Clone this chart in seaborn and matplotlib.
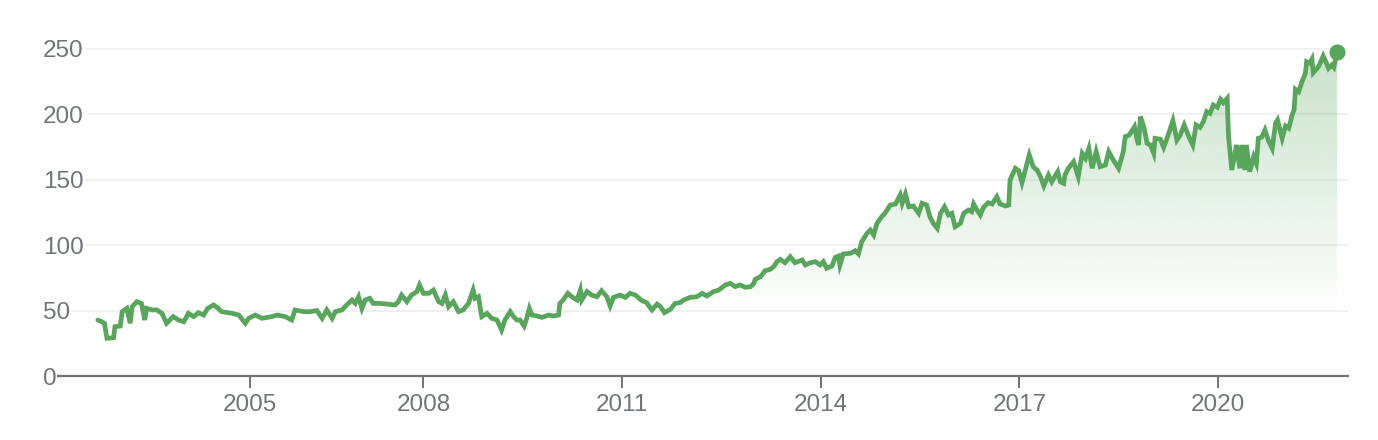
import numpy as np
import pandas as pd
import matplotlib
matplotlib.use("Agg")
import matplotlib.pyplot as plt
import matplotlib.colors as mcolors
import seaborn as sns

# ---- data (decimal year, price) ----
years_a = [2003.08, 2003.14, 2003.18, 2003.22, 2003.32, 2003.34, 2003.42, 2003.45, 2003.52, 2003.57,
           2003.60, 2003.67, 2003.74, 2003.79, 2003.82, 2003.90, 2003.97, 2004.05, 2004.12, 2004.22,
           2004.30, 2004.38, 2004.45, 2004.53, 2004.60, 2004.68, 2004.74, 2004.83, 2004.90, 2004.95,
           2005.11, 2005.21, 2005.31, 2005.36, 2005.46, 2005.56, 2005.71, 2005.79, 2005.91, 2006.01,
           2006.06, 2006.19]
prices_a = [42.8, 41.5, 40.3, 28.8, 29.3, 37.7, 38.2, 49.2, 51.7, 40.3,
            53.0, 56.8, 55.5, 42.8, 51.7, 50.5, 50.5, 47.9, 40.3, 45.4,
            42.8, 41.5, 47.9, 45.4, 48.4, 46.6, 51.7, 54.3, 51.7, 49.2,
            47.9, 46.6, 40.3, 44.1, 46.6, 44.1, 45.4, 46.6, 45.4, 42.8,
            50.5, 49.2]

years_b = [2006.29, 2006.39, 2006.47, 2006.54, 2006.62, 2006.67, 2006.77, 2006.84, 2006.92, 2006.97,
           2007.02, 2007.07, 2007.12, 2007.19, 2007.24, 2007.35, 2007.45, 2007.57, 2007.62, 2007.67,
           2007.75, 2007.82, 2007.90, 2007.94, 2008.00, 2008.08, 2008.15, 2008.23, 2008.28, 2008.33,
           2008.38, 2008.45, 2008.53, 2008.60, 2008.68, 2008.75, 2008.78, 2008.83, 2008.88, 2008.96,
           2009.03, 2009.11, 2009.18, 2009.23]
prices_b = [49.2, 50.0, 44.1, 50.5, 44.1, 49.2, 50.5, 54.3, 58.1, 55.5,
            60.6, 51.7, 58.1, 59.4, 55.5, 55.5, 55.0, 54.3, 56.8, 61.9,
            56.8, 61.9, 64.5, 69.6, 63.2, 63.2, 65.7, 56.8, 55.5, 61.9,
            53.0, 56.8, 49.2, 50.5, 55.5, 65.7, 59.4, 60.6, 45.4, 47.9,
            44.1, 42.8, 35.2, 42.8]

years_c = [2009.31, 2009.36, 2009.41, 2009.46, 2009.52, 2009.56, 2009.60, 2009.64, 2009.71, 2009.79,
           2009.89, 2009.96, 2010.04, 2010.06, 2010.11, 2010.18, 2010.24, 2010.32, 2010.37, 2010.39,
           2010.47, 2010.54, 2010.62, 2010.69, 2010.77, 2010.82, 2010.87, 2010.97, 2011.05, 2011.12,
           2011.20, 2011.30, 2011.37, 2011.45, 2011.53, 2011.58, 2011.64, 2011.73, 2011.80, 2011.88,
           2011.93, 2012.03, 2012.13, 2012.21, 2012.28, 2012.38, 2012.46]
prices_c = [49.2, 45.4, 42.8, 42.8, 38.2, 44.1, 51.7, 46.6, 45.9, 44.8,
            46.6, 45.9, 46.6, 55.5, 58.1, 63.2, 60.6, 58.1, 65.7, 58.1,
            64.5, 61.9, 60.6, 65.2, 60.6, 53.5, 60.1, 61.9, 60.1, 63.2,
            61.9, 57.6, 56.1, 50.5, 55.0, 53.0, 48.4, 51.0, 55.5, 56.1,
            58.1, 60.1, 60.6, 63.2, 61.2, 64.5, 65.7]

years_d = [2012.56, 2012.63, 2012.71, 2012.78, 2012.86, 2012.94, 2012.99, 2013.01, 2013.09, 2013.16,
           2013.24, 2013.29, 2013.34, 2013.39, 2013.46, 2013.54, 2013.61, 2013.72, 2013.77, 2013.84,
           2013.92, 2013.99, 2014.04, 2014.09, 2014.17, 2014.22, 2014.27, 2014.29, 2014.34, 2014.45,
           2014.52, 2014.57, 2014.62, 2014.70, 2014.75, 2014.80, 2014.85, 2014.92, 2014.97, 2015.05,
           2015.13, 2015.20, 2015.23, 2015.28, 2015.33, 2015.40, 2015.48, 2015.53, 2015.60]
prices_d = [69.6, 70.8, 68.3, 69.6, 67.8, 68.3, 70.8, 73.9, 75.9, 80.5,
            81.6, 83.6, 87.4, 89.2, 86.6, 91.2, 86.6, 88.7, 84.9, 86.6,
            87.4, 84.9, 87.4, 82.3, 84.1, 90.7, 91.7, 84.9, 93.3, 93.8,
            95.8, 93.3, 102.7, 109.1, 111.6, 107.8, 116.7, 121.8, 124.4, 130.7,
            131.5, 138.4, 132.0, 139.1, 129.4, 130.0, 124.4, 132.0, 130.7]

years_e = [2015.65, 2015.70, 2015.76, 2015.81, 2015.87, 2015.93, 2015.98, 2016.03, 2016.11, 2016.16,
           2016.23, 2016.28, 2016.31, 2016.36, 2016.41, 2016.46, 2016.53, 2016.59, 2016.66, 2016.71,
           2016.79, 2016.84, 2016.86, 2016.94, 2016.99, 2017.04, 2017.09, 2017.15, 2017.21, 2017.27,
           2017.32, 2017.37, 2017.44, 2017.49, 2017.58, 2017.62, 2017.67, 2017.69, 2017.74, 2017.82,
           2017.89, 2017.95, 2018.00, 2018.05, 2018.10, 2018.16, 2018.22, 2018.30, 2018.35, 2018.42,
           2018.50, 2018.57, 2018.60, 2018.66, 2018.74, 2018.78, 2018.80]
prices_e = [121.8, 116.7, 112.9, 124.4, 129.4, 123.1, 124.4, 114.1, 116.7, 124.4,
            126.9, 125.6, 131.5, 126.9, 123.1, 129.0, 132.5, 131.5, 137.1, 131.5,
            130.0, 130.7, 149.8, 158.8, 157.0, 147.8, 157.3, 169.0, 160.0, 157.3,
            152.4, 145.3, 153.7, 148.5, 156.2, 148.5, 147.3, 153.7, 158.8, 163.8,
            152.4, 170.2, 166.4, 174.0, 158.8, 171.5, 160.0, 161.3, 171.5, 165.1,
            158.8, 171.5, 183.0, 184.2, 190.6, 180.4, 176.6]

years_f = [2018.83, 2018.88, 2018.93, 2018.98, 2019.03, 2019.05, 2019.13, 2019.18, 2019.24, 2019.32,
           2019.38, 2019.43, 2019.49, 2019.56, 2019.62, 2019.67, 2019.73, 2019.78, 2019.83, 2019.88,
           2019.93, 2019.99, 2020.04, 2020.08, 2020.14, 2020.16, 2020.21, 2020.28, 2020.33, 2020.36,
           2020.41, 2020.43, 2020.48, 2020.54, 2020.58, 2020.61, 2020.66, 2020.71, 2020.76, 2020.82,
           2020.87, 2020.90, 2020.97, 2021.02, 2021.07, 2021.12, 2021.15, 2021.17, 2021.22, 2021.27,
           2021.32, 2021.34, 2021.39, 2021.42, 2021.44, 2021.52, 2021.59, 2021.64, 2021.67, 2021.72,
           2021.75, 2021.80]
prices_f = [198.3, 190.6, 177.9, 176.6, 170.2, 181.7, 181.0, 174.8, 183.0, 195.2,
            180.4, 184.2, 191.9, 183.0, 176.6, 191.9, 190.1, 194.4, 202.1, 200.8,
            207.2, 205.4, 211.5, 208.9, 212.3, 183.0, 157.5, 176.6, 158.8, 176.6,
            157.5, 176.6, 156.2, 167.7, 162.6, 181.7, 182.5, 188.1, 180.4, 174.0,
            193.2, 195.7, 181.7, 191.1, 189.4, 199.5, 203.4, 219.2, 217.3, 225.0,
            231.4, 240.3, 239.1, 242.1, 231.9, 236.5, 244.6, 239.1, 235.2, 237.8,
            236.0, 247.9]

y_ticks = [0, 50, 100, 150, 200, 250]
x_tick_pos = [2005.38, 2008, 2011, 2014, 2017, 2020]
x_tick_labels = ["2005", "2008", "2011", "2014", "2017", "2020"]

years = np.concatenate([years_a, years_b, years_c, years_d, years_e, years_f])
prices = np.concatenate([prices_a, prices_b, prices_c, prices_d, prices_e, prices_f])
df = pd.DataFrame({"year": years, "price": prices})

# ---- style ----
sns.set_theme(style="white")
plt.rcParams["font.family"] = ["Liberation Sans", "DejaVu Sans"]

line_color = "#58a55c"
text_color = "#70757a"
axis_color = "#6f7378"
grid_color = "#f1f1f1"

W, H = 1378, 440
fig = plt.figure(figsize=(W / 100, H / 100), dpi=100)
ax = fig.add_axes([58 / W, 64 / H, (1347.7 - 58) / W, (376 - 35.9) / H])

x0, x1 = 2002.48, 2021.96
y0, y1 = 0, 260

# gradient fill under the line
fill = ax.fill_between(df["year"], df["price"], 0, color="none", lw=0)
n = 300
gy = np.linspace(y0, y1, n)
alpha = np.clip(0.33 * (gy - 45) / 205, 0, None)
rgba = np.zeros((n, 1, 4))
rgba[..., :3] = mcolors.to_rgb(line_color)
rgba[..., 3] = alpha[:, None]
im = ax.imshow(rgba, extent=[x0, x1, y0, y1], origin="lower", aspect="auto",
               zorder=1, interpolation="bilinear")
im.set_clip_path(fill.get_paths()[0], transform=ax.transData)

sns.lineplot(data=df, x="year", y="price", color=line_color, lw=3.4, ax=ax,
             zorder=3, solid_joinstyle="miter")
sns.scatterplot(data=df.tail(1), x="year", y="price", color=line_color, s=135,
                linewidth=0, ax=ax, zorder=4, clip_on=False)

ax.set_xlim(x0, x1)
ax.set_ylim(y0, y1)
ax.set_xlabel("")
ax.set_ylabel("")

# axes / grid
for side in ["top", "right", "left"]:
    ax.spines[side].set_visible(False)
ax.spines["bottom"].set_color(axis_color)
ax.spines["bottom"].set_linewidth(1.6)
ax.spines["bottom"].set_zorder(5)

ax.set_yticks(y_ticks)
ax.set_yticklabels([str(v) for v in y_ticks])
ax.yaxis.grid(True, color=grid_color, lw=1.5)
ax.xaxis.grid(False)
ax.set_axisbelow(True)

ax.set_xticks(x_tick_pos)
ax.set_xticklabels(x_tick_labels)

ax.tick_params(axis="x", length=8.6, width=1.4, color=axis_color, pad=4.5,
               labelsize=17.5, labelcolor=text_color, bottom=True)
ax.tick_params(axis="y", length=0, pad=10.8, labelsize=17.5, labelcolor=text_color, left=True)
for lab in ax.get_yticklabels():
    lab.set_horizontalalignment("left")
    lab.set_bbox(dict(facecolor="white", edgecolor="none", pad=1.5))

fig.savefig("out.png", dpi=100, facecolor="white")
